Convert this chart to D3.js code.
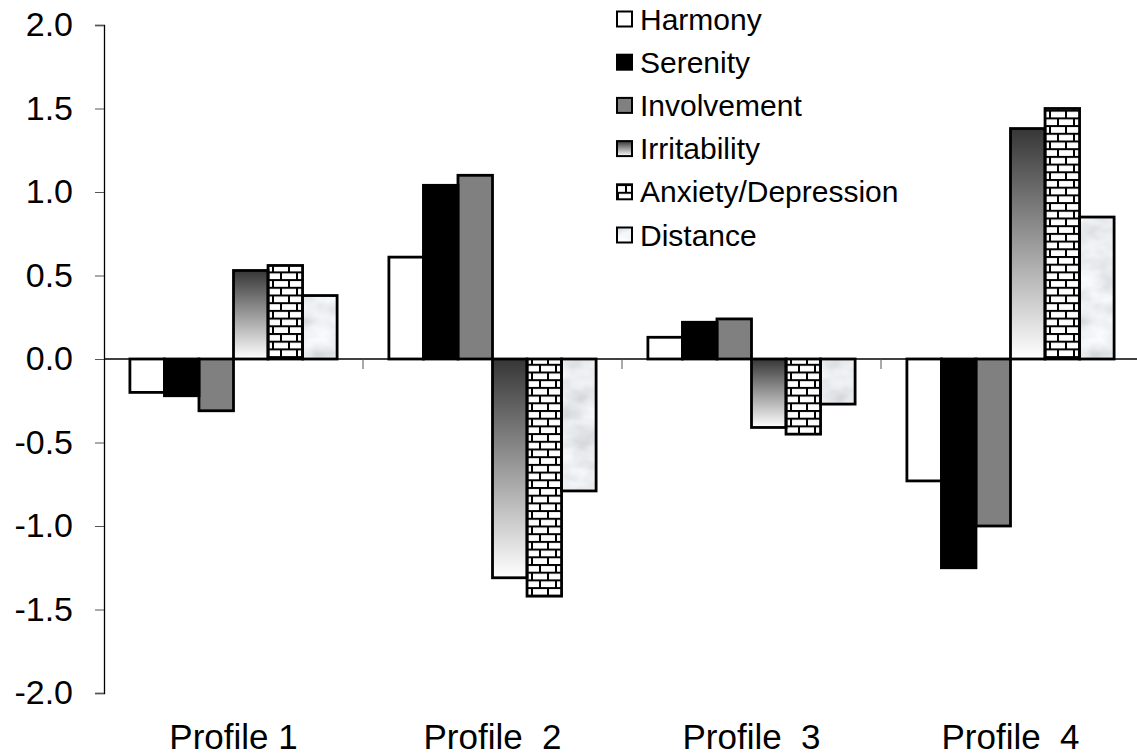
<!DOCTYPE html>
<html>
<head>
<meta charset="utf-8">
<script src="https://cdn.jsdelivr.net/npm/d3@7"></script>
<style>
  body { margin: 0; background: #fff; }
  text { font-family: Arial, "Liberation Sans", sans-serif; fill: #000; }
</style>
</head>
<body>
<div id="chart"></div>
<script>
// data
const profiles = ["Profile 1", "Profile  2", "Profile  3", "Profile  4"];
const seriesNames = ["Harmony", "Serenity", "Involvement", "Irritability", "Anxiety/Depression", "Distance"];
const harmony     = [-0.20,  0.61,  0.13, -0.73];
const serenity    = [-0.22,  1.04,  0.22, -1.25];
const involvement = [-0.31,  1.10,  0.24, -1.00];
const irritability= [ 0.53, -1.31, -0.41,  1.38];
const anxiety     = [ 0.56, -1.42, -0.45,  1.50];
const distance    = [ 0.38, -0.79, -0.27,  0.85];
const yTicks = [-2.0, -1.5, -1.0, -0.5, 0.0, 0.5, 1.0, 1.5, 2.0];

const seriesValues = [harmony, serenity, involvement, irritability, anxiety, distance];

const W = 1137, H = 756;
const margin = {top: 25, right: -3, bottom: 63, left: 104};
const width = W - margin.left - margin.right,
      height = H - margin.top - margin.bottom;

const svg = d3.select("#chart").append("svg")
    .attr("width", W).attr("height", H);

// fills
const defs = svg.append("defs");

const grad = defs.append("linearGradient")
    .attr("id", "irrGrad")
    .attr("x1", 0).attr("y1", 0).attr("x2", 0).attr("y2", 1);
grad.append("stop").attr("offset", "0%").attr("stop-color", "#363636");
grad.append("stop").attr("offset", "100%").attr("stop-color", "#ffffff");

// brick pattern
const brick = defs.append("pattern")
    .attr("id", "brick")
    .attr("patternUnits", "userSpaceOnUse")
    .attr("width", 16).attr("height", 15.4);
brick.append("rect").attr("width", 16).attr("height", 15.4).attr("fill", "#fff");
brick.append("rect").attr("x", 0).attr("y", 0).attr("width", 16).attr("height", 2).attr("fill", "#000");
brick.append("rect").attr("x", 0).attr("y", 7.7).attr("width", 16).attr("height", 2).attr("fill", "#000");
brick.append("rect").attr("x", 0).attr("y", 0).attr("width", 2).attr("height", 7.7).attr("fill", "#000");
brick.append("rect").attr("x", 8).attr("y", 7.7).attr("width", 2).attr("height", 7.7).attr("fill", "#000");

// marble texture, applied straight to the shape as a filter
const marbleFilter = defs.append("filter")
    .attr("id", "marble")
    .attr("x", 0).attr("y", 0).attr("width", 1).attr("height", 1);
marbleFilter.append("feTurbulence")
    .attr("type", "fractalNoise")
    .attr("baseFrequency", "0.03 0.045")
    .attr("numOctaves", 3)
    .attr("seed", 4)
    .attr("result", "noise");
marbleFilter.append("feColorMatrix")
    .attr("in", "noise")
    .attr("type", "matrix")
    .attr("values", "0.5 0 0 0 0.58  0.5 0 0 0 0.6  0.5 0 0 0 0.62  0 0 0 0 1")
    .attr("result", "tint");
marbleFilter.append("feComposite")
    .attr("in", "tint").attr("in2", "SourceGraphic").attr("operator", "in");

const fills = ["#ffffff", "#000000", "#808080", "url(#irrGrad)", "url(#brick)", "#e2e4e6"];

const g = svg.append("g")
    .attr("transform", `translate(${margin.left},${margin.top})`);

// scales
const x0 = d3.scaleBand().domain(profiles).range([0, 1036]).padding(0);
const x1 = d3.scaleBand().domain(seriesNames).range([0, x0.bandwidth()])
    .paddingInner(0).paddingOuter(0.75);
const y = d3.scaleLinear().domain([-2, 2]).range([height, 0]);

// bars
const groups = g.selectAll(".grp")
    .data(profiles)
    .join("g")
    .attr("transform", d => `translate(${x0(d)},0)`);

const barData = (p, i) => seriesNames.map((s, j) => ({s: s, j: j, v: seriesValues[j][i]}));

groups.selectAll("rect.fill")
    .data(barData)
    .join("rect")
    .attr("class", "fill")
    .attr("x", d => x1(d.s))
    .attr("width", x1.bandwidth())
    .attr("y", d => y(Math.max(0, d.v)))
    .attr("height", d => Math.abs(y(d.v) - y(0)))
    .attr("fill", d => fills[d.j])
    .attr("filter", d => d.j === 5 ? "url(#marble)" : null);

groups.selectAll("rect.edge")
    .data(barData)
    .join("rect")
    .attr("class", "edge")
    .attr("x", d => x1(d.s))
    .attr("width", x1.bandwidth())
    .attr("y", d => y(Math.max(0, d.v)))
    .attr("height", d => Math.abs(y(d.v) - y(0)))
    .attr("fill", "none")
    .attr("stroke", "#000")
    .attr("stroke-width", 2.8);

// y axis
const yAxis = g.append("g")
    .call(d3.axisLeft(y).tickValues(yTicks).tickSize(9).tickPadding(22)
        .tickFormat(d3.format(".1f")));
yAxis.select(".domain").attr("stroke", "#000").attr("stroke-width", 1.3);
yAxis.selectAll(".tick line").attr("stroke", "#555");
yAxis.selectAll(".tick text")
    .style("font-size", "34px")
    .text(d => d3.format(".1f")(d).replace("−", "-"));

// zero line with category ticks
g.append("line")
    .attr("x1", 0).attr("x2", 1036)
    .attr("y1", y(0)).attr("y2", y(0))
    .attr("stroke", "#000").attr("stroke-width", 1.3);
g.selectAll(".ctick")
    .data(profiles.slice(1))
    .join("line")
    .attr("x1", d => x0(d)).attr("x2", d => x0(d))
    .attr("y1", y(0)).attr("y2", y(0) + 10)
    .attr("stroke", "#555");

// category labels
g.selectAll(".clabel")
    .data(profiles)
    .join("text")
    .attr("x", d => x0(d) + x0.bandwidth() / 2)
    .attr("y", height + 56)
    .attr("text-anchor", "middle")
    .style("font-size", "35px")
    .style("white-space", "pre")
    .attr("xml:space", "preserve")
    .text(d => d);

// legend
const legend = svg.append("g").attr("transform", "translate(617,19)");
const items = legend.selectAll("g")
    .data(seriesNames)
    .join("g")
    .attr("transform", (d, i) => `translate(0,${i * 43.2})`);
items.append("rect")
    .attr("x", 0).attr("y", -7.5)
    .attr("width", 15).attr("height", 15)
    .attr("fill", (d, i) => fills[i])
    .attr("filter", (d, i) => i === 5 ? "url(#marble)" : null);
items.append("rect")
    .attr("x", 0).attr("y", -7.5)
    .attr("width", 15).attr("height", 15)
    .attr("fill", "none")
    .attr("stroke", "#000").attr("stroke-width", 2);
items.append("text")
    .attr("x", 23).attr("y", 0)
    .attr("dy", "0.35em")
    .style("font-size", "30px")
    .text(d => d);
</script>
</body>
</html>
